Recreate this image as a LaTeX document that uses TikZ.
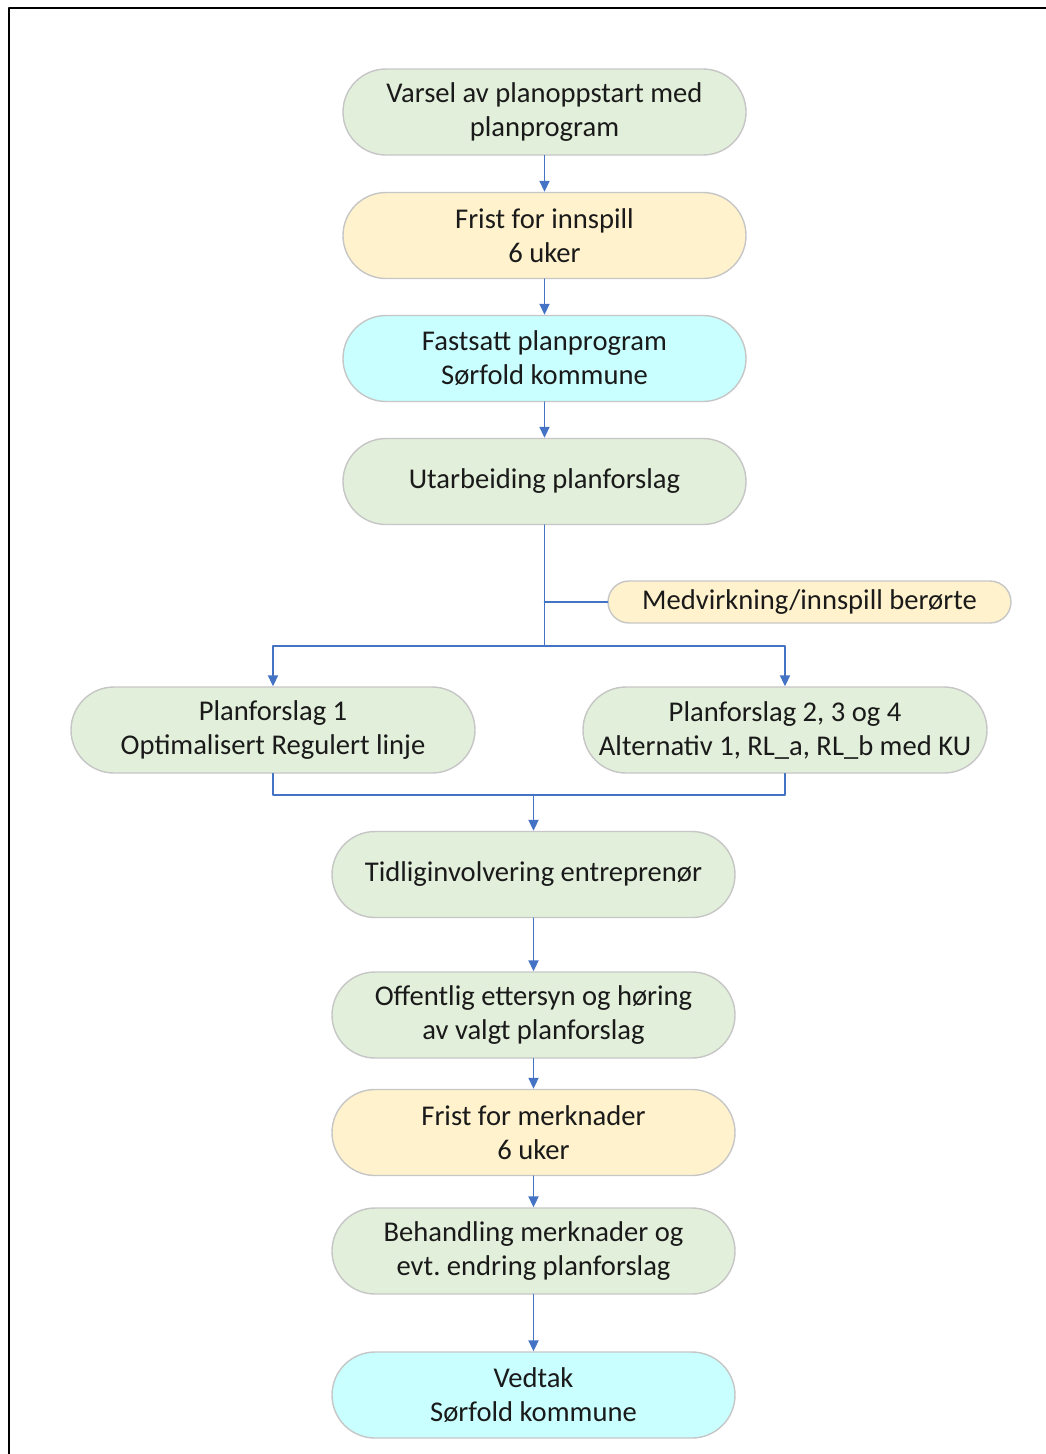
\documentclass[tikz,border=0pt]{standalone}
\usepackage{fontspec}
\setmainfont{Carlito}
\usetikzlibrary{arrows.meta}
\definecolor{boxgreen}{HTML}{E2EFDA}
\definecolor{boxyellow}{HTML}{FFF2CC}
\definecolor{boxcyan}{HTML}{C9FFFF}
\definecolor{linkblue}{HTML}{4472C4}
\definecolor{boxedge}{HTML}{C6C6C6}
\definecolor{boxtext}{HTML}{1A1A1A}
\frenchspacing

\begin{document}
\begin{tikzpicture}[line cap=round,line join=round,x=1pt,y=-1pt,
  >={Triangle[length=11pt,width=10pt]},
  stepbox/.style={draw=boxedge,line width=1.4pt,rounded corners=43pt,
    minimum width=403pt,minimum height=86pt,align=center,inner sep=0pt,
    text=boxtext,font=\fontsize{28.6}{34}\selectfont},
  greenbox/.style={stepbox,fill=boxgreen},
  yellowbox/.style={stepbox,fill=boxyellow},
  cyanbox/.style={stepbox,fill=boxcyan},
  link/.style={draw=linkblue,line width=1.9pt}]
\useasboundingbox (0,0) rectangle (1046,1454);
% frame
\draw[line width=2pt] (9,1460) -- (9,8) -- (1050,8);

% main column
\node[greenbox] (varsel) at (544.5,112) {Varsel av planoppstart med\\planprogram};
\node[yellowbox] (innspill) at (544.5,235.5) {Frist for innspill\\6 uker};
\node[cyanbox] (fastsatt) at (544.5,358.5) {Fastsatt planprogram\\Sørfold kommune};
\node[greenbox] (utarbeid) at (544.5,481.5) {Utarbeiding planforslag};
\node[yellowbox,minimum height=42pt,rounded corners=21pt] (medvirk) at (809.5,602) {Medvirkning/innspill berørte};

% alternatives
\node[greenbox,minimum width=404pt] (plan1) at (273,730) {Planforslag 1\\Optimalisert Regulert linje};
\node[greenbox,minimum width=404pt] (plan2) at (785,730) {Planforslag 2, 3 og 4\\Alternativ 1, RL\_a, RL\_b med KU};

\node[greenbox] (tidlig) at (533.5,874.5) {Tidliginvolvering entreprenør};
\node[greenbox] (offentlig) at (533.5,1015) {Offentlig ettersyn og høring\\av valgt planforslag};
\node[yellowbox] (merknad) at (533.5,1132.5) {Frist for merknader\\6 uker};
\node[greenbox] (behandl) at (533.5,1251) {Behandling merknader og\\evt. endring planforslag};
\node[cyanbox] (vedtak) at (533.5,1395) {Vedtak\\Sørfold kommune};

\coordinate (split) at (544.5,646);
\coordinate (join) at (533.5,795);

% connectors
\draw[link,->] (varsel) -- (innspill);
\draw[link,->] (innspill) -- (fastsatt);
\draw[link,->] (fastsatt) -- (utarbeid);
\draw[link] (utarbeid.south) -- (split);
\draw[link] (medvirk.west) -- (medvirk.west -| split);
\draw[link,->] (split) -| (plan1.north);
\draw[link,->] (split) -| (plan2.north);
\draw[link] (plan1.south) |- (join);
\draw[link] (plan2.south) |- (join);
\draw[link,->] (join) -- (tidlig.north);
\draw[link,->] (tidlig) -- (offentlig);
\draw[link,->] (offentlig) -- (merknad);
\draw[link,->] (merknad) -- (behandl);
\draw[link,->] (behandl) -- (vedtak);
\end{tikzpicture}
\end{document}
